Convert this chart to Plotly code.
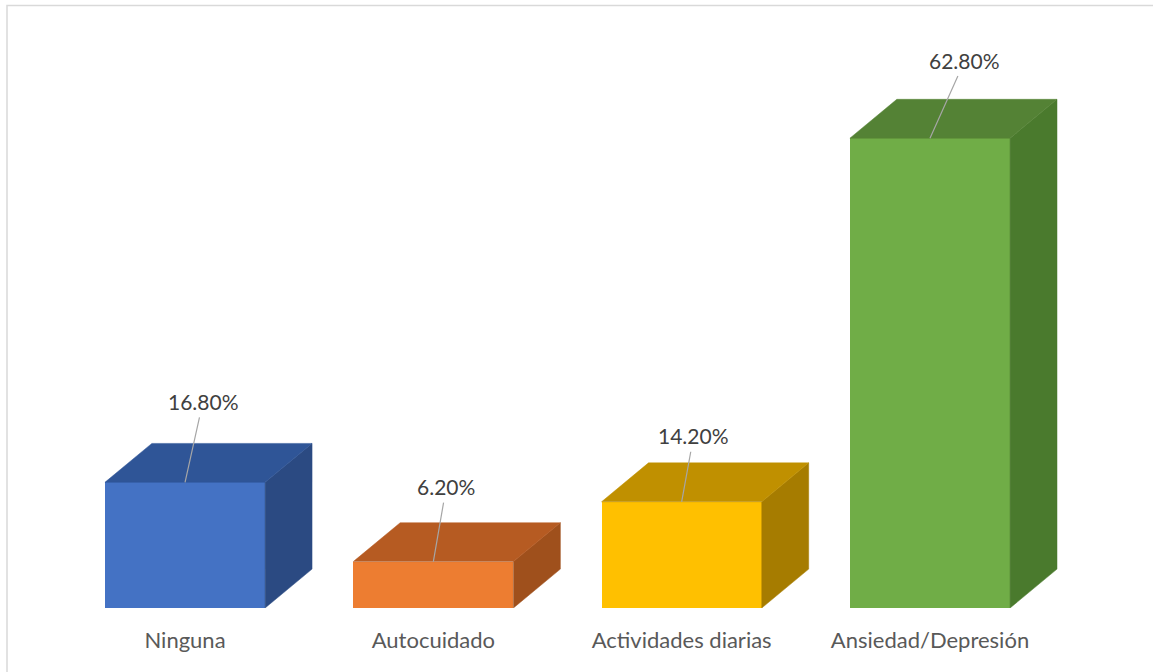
import plotly.graph_objects as go

categories = ["Ninguna", "Autocuidado", "Actividades diarias", "Ansiedad/Depresión"]
values = [16.8, 6.2, 14.2, 62.8]
value_labels = ["16.80%", "6.20%", "14.20%", "62.80%"]

front_colors = ["#4472C4", "#ED7D31", "#FFC000", "#70AD47"]
top_colors = ["#2F5597", "#B65B22", "#C09000", "#548235"]
side_colors = ["#2B4A82", "#9F501C", "#A67C00", "#4A7A2D"]

# layout / style parameters
bar_w = 0.645
depth_x = 0.189
depth_y = 5.2
label_dx = [18, 13, 12, 35]
label_dy = [-81, -75, -66, -78]

fig = go.Figure()

xs = list(range(len(categories)))
for i, v in enumerate(values):
    xl = xs[i] - bar_w / 2
    xr = xs[i] + bar_w / 2
    # side face
    fig.add_trace(go.Scatter(
        x=[xr, xr + depth_x, xr + depth_x, xr, xr],
        y=[0, depth_y, v + depth_y, v, 0],
        fill="toself", fillcolor=side_colors[i], mode="lines",
        line=dict(width=0.5, color=side_colors[i]), hoverinfo="skip", showlegend=False))
    # top face
    fig.add_trace(go.Scatter(
        x=[xl, xl + depth_x, xr + depth_x, xr, xl],
        y=[v, v + depth_y, v + depth_y, v, v],
        fill="toself", fillcolor=top_colors[i], mode="lines",
        line=dict(width=0.5, color=top_colors[i]), hoverinfo="skip", showlegend=False))

fig.add_trace(go.Bar(
    x=xs, y=values, width=bar_w,
    marker=dict(color=front_colors, line=dict(width=0)),
    hoverinfo="skip", showlegend=False))

for i, v in enumerate(values):
    fig.add_annotation(
        x=xs[i], y=v, text=value_labels[i], showarrow=True,
        ax=label_dx[i], ay=label_dy[i], arrowhead=0, arrowwidth=1.2,
        arrowcolor="#A6A6A6", standoff=0, startstandoff=2,
        font=dict(family="Lato, Open Sans, sans-serif", size=21, color="#404040"))

fig.update_layout(
    width=1153, height=672,
    margin=dict(l=40, r=40, t=20, b=64),
    paper_bgcolor="white", plot_bgcolor="white",
    xaxis=dict(range=[-0.584, 3.737], tickvals=xs, ticktext=categories,
               showgrid=False, zeroline=False, showline=False, ticks="",
               ticklabelstandoff=17,
               tickfont=dict(family="Lato, Open Sans, sans-serif", size=22, color="#595959")),
    yaxis=dict(range=[0, 78.6], showgrid=False, zeroline=False, showline=False,
               showticklabels=False, ticks=""),
    bargap=0,
)

# chart-area border (top and left edges visible)
fig.add_shape(type="rect", xref="paper", yref="paper",
              x0=(7 - 40) / 1073, x1=1.2, y0=-0.2, y1=1 + (20 - 5.5) / 588,
              line=dict(color="#D9D9D9", width=1.5), fillcolor="rgba(0,0,0,0)", layer="below")

fig.write_html("out.html", config={"displayModeBar": False},
               post_script="document.body.style.margin='0px';")
